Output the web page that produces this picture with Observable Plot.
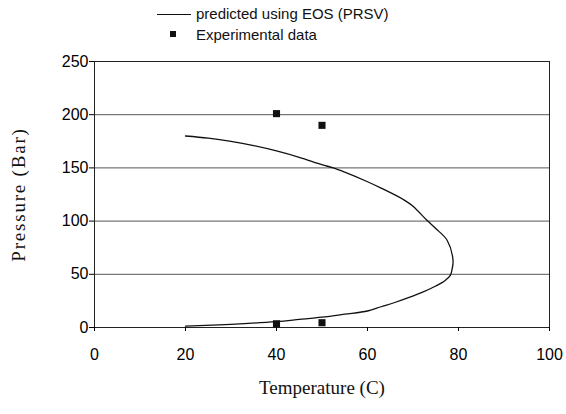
<!DOCTYPE html>
<html>
<head>
<meta charset="utf-8">
<script src="https://cdn.jsdelivr.net/npm/d3@7"></script>
<script src="https://cdn.jsdelivr.net/npm/@observablehq/plot@0.6"></script>
<style>
  html, body { margin: 0; padding: 0; background: #fff; }
  #wrap { position: relative; width: 566px; height: 414px; font-family: "Liberation Sans", Arial, sans-serif; }
  #legend { position: relative; height: 45px; width: 566px; }
  .lg { position: absolute; font-size: 15px; color: #111; white-space: nowrap; line-height: 1; }
  #chart { position: absolute; left: 0; top: 45px; }
</style>
</head>
<body>
<div id="wrap">
  <div id="legend">
    <div style="position:absolute;left:157px;top:14px;width:34px;height:0;border-top:1.3px solid #111"></div>
    <div class="lg" style="left:196px;top:6px">predicted using EOS (PRSV)</div>
    <div style="position:absolute;left:170px;top:31px;width:6px;height:6px;background:#111"></div>
    <div class="lg" style="left:196px;top:27px">Experimental data</div>
  </div>
  <div id="chart"></div>
</div>
<script>
// Predicted phase envelope (EOS PRSV): temperature (C), pressure (Bar), in path order
const curveT = [20, 25, 30, 35, 40, 45, 50, 52.5, 55, 60, 63, 68, 70, 73, 75, 77.5, 78.8, 78.6, 78.2, 77, 75, 72, 69, 66, 63, 60, 55, 50, 45, 40, 30, 20];
const curveP = [180, 178, 175, 171, 166, 160, 153, 150, 146, 137, 131, 120, 114, 101, 93, 82, 63, 55, 49, 44, 39, 33, 28, 23.5, 19.5, 15.5, 12.5, 9.7, 7.6, 5.6, 3, 1.2];
// Experimental data
const expT = [40, 50, 40, 50];
const expP = [201, 190, 3.5, 4.5];
// Ticks
const xTicks = [0, 20, 40, 60, 80, 100];
const yTicks = [0, 50, 100, 150, 200, 250];
const gridY = [50, 100, 150, 200];

const curve = curveT.map((t, i) => ({t, p: curveP[i]}));
const exp = expT.map((t, i) => ({t, p: expP[i]}));

const plot = Plot.plot({
  width: 566,
  height: 369,
  marginLeft: 94,
  marginRight: 17,
  marginTop: 16,
  marginBottom: 87,
  style: {fontFamily: "'Liberation Sans', Arial, sans-serif", fontSize: "16px", color: "#000", background: "#fff"},
  x: {domain: [0, 100], ticks: xTicks, label: null},
  y: {domain: [0, 250], ticks: yTicks, label: null},
  marks: [
    Plot.ruleY(gridY, {stroke: "#555", strokeWidth: 1}),
    Plot.frame({stroke: "#222", strokeWidth: 1}),
    Plot.axisX({ticks: xTicks, tickSize: 4, tickPadding: 17, fontSize: 16, tickFormat: d => String(d), label: null}),
    Plot.axisY({ticks: yTicks, tickSize: 5, tickPadding: 1, fontSize: 16, tickFormat: d => String(d), label: null}),
    Plot.line(curve, {x: "t", y: "p", curve: "catmull-rom", stroke: "#111", strokeWidth: 1.3}),
    Plot.dot(exp, {x: "t", y: "p", symbol: "square", r: 4, fill: "#111", stroke: "none"}),
    Plot.text(["Temperature (C)"], {frameAnchor: "bottom", dy: 66, text: d => d, fontFamily: "'Liberation Serif', 'Times New Roman', serif", fontSize: 19, fill: "#111"}),
    Plot.text(["Pressure (Bar)"], {frameAnchor: "left", textAnchor: "middle", dx: -76, rotate: -90, text: d => d, fontFamily: "'Liberation Serif', 'Times New Roman', serif", fontSize: 19, fill: "#111", style: "letter-spacing: 1.8px"})
  ]
});
// letter-spacing for the y-axis title
plot.querySelectorAll("text").forEach(t => { if (t.textContent === "Pressure (Bar)") t.setAttribute("letter-spacing", "1.8"); });
document.getElementById("chart").appendChild(plot);
</script>
</body>
</html>
